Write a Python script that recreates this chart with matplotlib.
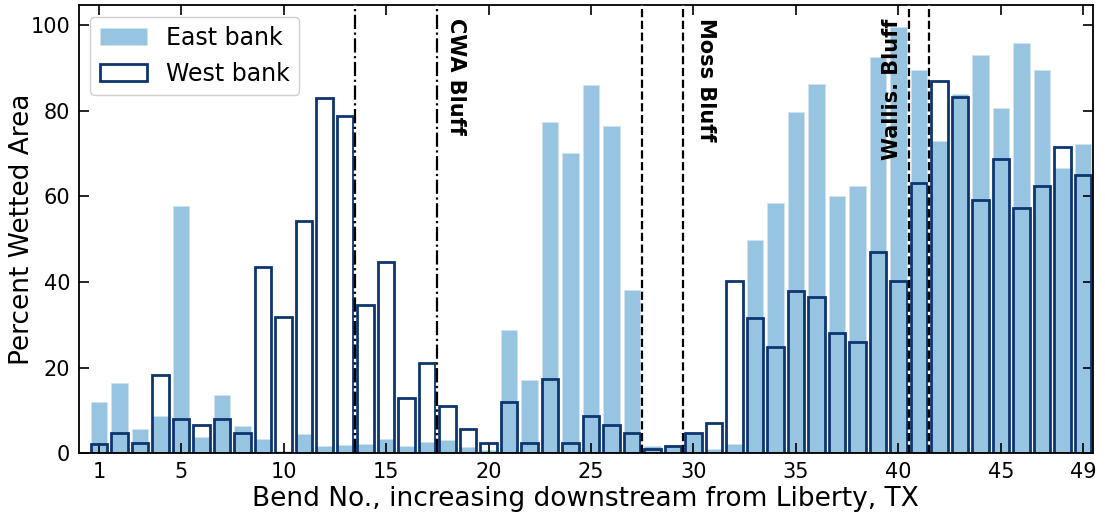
import matplotlib
matplotlib.use("Agg")
import matplotlib.pyplot as plt
import numpy as np

bends = list(range(1, 50))
east = [12.05, 16.5, 5.6, 8.7, 57.8, 3.9, 13.5, 6.3, 3.3, 0.5,
        4.4, 1.6, 1.9, 2.1, 3.4, 1.6, 2.6, 3.2, 1.5, 0.8,
        28.7, 17.0, 77.3, 70.2, 85.9, 76.3, 38.2, 1.7, 1.9, 4.5,
        1.0, 2.1, 49.7, 58.4, 79.6, 86.2, 60.0, 62.5, 92.6, 99.5,
        89.5, 72.9, 83.8, 92.9, 80.7, 95.7, 89.5, 66.6, 72.2]
west = [2.1, 4.8, 2.3, 18.2, 7.9, 6.6, 7.9, 4.7, 43.4, 31.7,
        54.2, 83.0, 78.8, 34.7, 44.6, 12.9, 21.0, 11.1, 5.7, 2.4,
        12.0, 2.3, 17.4, 2.5, 8.6, 6.7, 4.7, 1.1, 1.8, 4.8,
        7.0, 40.3, 31.5, 24.9, 37.9, 36.4, 28.0, 26.0, 47.0, 40.2,
        63.2, 86.8, 83.1, 59.0, 68.7, 57.3, 62.5, 71.4, 64.9]
xticks = [1, 5, 10, 15, 20, 25, 30, 35, 40, 45, 49]
dashdot_lines = [13.5, 17.5]
dashed_lines = [27.5, 29.5, 40.5, 41.5]
bluffs = [("CWA Bluff", 18.4, -90), ("Moss Bluff", 30.6, -90), ("Wallis. Bluff", 39.7, 90)]

east_color = "#96c4e1"
west_color = "#0d3570"

fig = plt.figure(figsize=(11.05, 5.24), dpi=100)
ax = fig.add_axes([0.0712, 0.135, 0.918, 0.856])

ax.bar(bends, east, width=0.8, color=east_color, edgecolor="#cfe3f0", linewidth=0.6,
       label="East bank", zorder=1)
ax.bar(bends, west, width=0.8, facecolor="none", edgecolor=west_color, linewidth=2,
       label="West bank", zorder=2)

for xv in dashdot_lines:
    ax.axvline(xv, color="black", linestyle="-.", linewidth=1.6, gapcolor="white", zorder=3)
for xv in dashed_lines:
    ax.axvline(xv, color="black", linestyle="--", linewidth=1.6, gapcolor="white", zorder=3)

for name, xv, rot in bluffs:
    ax.text(xv, 101.5, name, rotation=rot, ha="center", va="top", fontsize=15,
            fontweight="bold", zorder=4)

ax.set_xlim(0, 49.5)
ax.set_ylim(0, 104.7)
ax.set_xticks(xticks)
ax.set_yticks([0, 20, 40, 60, 80, 100])
ax.tick_params(direction="in", top=True, right=True, length=7, width=1.2, labelsize=15,
               pad=6)
for s in ax.spines.values():
    s.set_linewidth(1.3)
ax.set_xlabel("Bend No., increasing downstream from Liberty, TX", fontsize=19, labelpad=3)
ax.set_ylabel("Percent Wetted Area", fontsize=19)
ax.yaxis.set_label_coords(-0.043, 0.5)

leg = ax.legend(loc="upper left", fontsize=17, framealpha=1, edgecolor="#d0d0d0",
                handlelength=2.0, borderaxespad=0.5)

fig.savefig("out.png", dpi=100)
